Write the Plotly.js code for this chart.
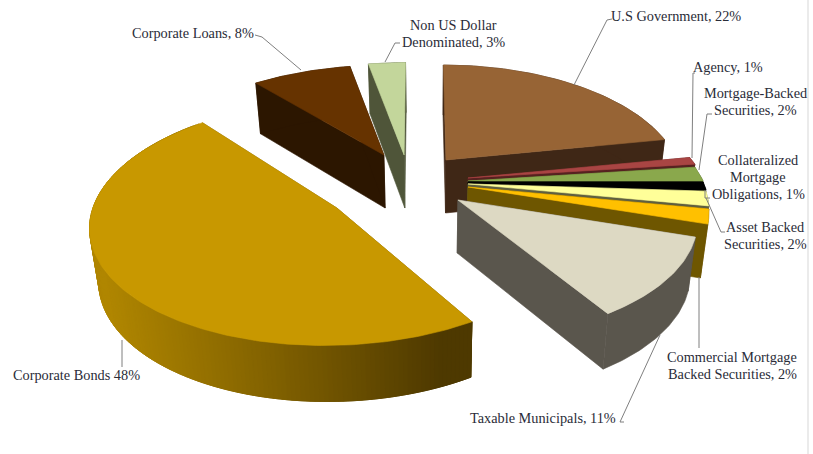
<!DOCTYPE html>
<html>
<head>
<meta charset="utf-8">
<script src="https://cdn.plot.ly/plotly-3.0.1.min.js"></script>
<style>html,body{margin:0;padding:0;background:#fff}#chart{width:813px;height:454px}</style>
</head>
<body>
<div id="chart"></div>
<script>
// Portfolio allocation by sector, percent of total, clockwise from twelve o'clock.
const categories = ["U.S Government", "Agency", "Mortgage-Backed Securities", "Collateralized Mortgage Obligations",
  "Asset Backed Securities", "Commercial Mortgage Backed Securities", "Taxable Municipals",
  "Corporate Bonds", "Corporate Loans", "Non US Dollar Denominated"];
const shares = [22, 1, 2, 1, 2, 2, 11, 48, 8, 3];

const topColors = ["#976435", "#A94543", "#8AA84C", "#000000", "#FFFF99", "#FFC000", "#DDD9C3", "#C89800", "#663300", "#C3D69B"];
const wallColors = ["#3F2716", "#562120", "#465527", "#000000", "#5F5F40", "#6E5600", "#5A564D", "#7F6000", "#2C1600", "#4F5539"];

// How far each slice is pulled from the pie centre, in radius units.
const pullX = [0.204, 0.298, 0.298, 0.298, 0.298, 0.298, 0.255, -0.260, -0.060, 0.026];
const pullY = [-0.239, -0.080, -0.053, -0.044, -0.027, 0.000, 0.115, 0.186, -0.283, -0.283];

// Projection of the tilted pie: each exploded slice has its own foreshortening.
const view = {cx: 398, cy: 187, rx: 235, ry: 113, depth: 53, taper: 0.027};
const sliceRx = [231, 235, 235, 235, 235, 235, 235, 244, 235, 235];
const sliceRy = [113, 113, 113, 113, 113, 113, 113, 121, 107, 110];
const slicePersp = [0.19, 0.19, 0.19, 0.19, 0.19, 0.19, 0.19, 0.12, 0.19, 0.19];
const sliceVanishX = [430, 430, 430, 430, 430, 430, 458, 430, 404, 413];
const vanishDrop = 430;

const bondsIndex = categories.indexOf("Corporate Bonds");
const gradientLeft = [176, 134, 0], gradientRight = [78, 57, 0];

function project(i, ax, ay, angleDeg) {
  const t = angleDeg * Math.PI / 180;
  const u = Math.sin(t), v = -Math.cos(t);
  const f = 1 / (1 - slicePersp[i] * v);
  return {
    x: ax + sliceRx[i] * u * f + (ax - sliceVanishX[i]) * (f - 1),
    y: ay + sliceRy[i] * v * f,
    v: v
  };
}
function dropped(p, v) {
  return {
    x: p.x + (vanishDrop - p.x) * view.taper,
    y: p.y + view.depth + 3 * (v === undefined ? 0 : v)
  };
}
function poly(points, color) {
  return {
    type: "scatter", mode: "lines", hoverinfo: "skip", showlegend: false, fill: "toself",
    fillcolor: color, line: {color: color, width: 0.6},
    x: points.map(p => p.x).concat(points[0].x),
    y: points.map(p => p.y).concat(points[0].y)
  };
}

const traces = [];
let cumulative = 0;
shares.forEach((share, i) => {
  const start = cumulative * 3.6, end = (cumulative + share) * 3.6;
  cumulative += share;
  const apex = {x: view.cx + pullX[i] * view.rx, y: view.cy + pullY[i] * view.ry};
  const arc = [];
  const steps = Math.max(2, Math.ceil(end - start));
  for (let s = 0; s <= steps; s++) arc.push(project(i, apex.x, apex.y, start + (end - start) * s / steps));

  const apexLow = dropped(apex, 0);
  const first = arc[0], last = arc[arc.length - 1];
  traces.push(poly([apex, first, dropped(first, first.v), apexLow], wallColors[i]));
  traces.push(poly([apex, last, dropped(last, last.v), apexLow], wallColors[i]));

  if (i === bondsIndex) {
    // The long outer wall darkens from left to right; bands overlap so no seams show.
    for (let s = 0; s < arc.length - 1; s++) {
      const a = arc[s], b = arc[Math.max(0, s - 3)];
      const mix = Math.min(1, Math.max(0, (a.x - 100) / 330));
      const c = gradientLeft.map((l, k) => Math.round(l + (gradientRight[k] - l) * mix));
      traces.push(poly([a, b, dropped(b, b.v), dropped(a, a.v)], "rgb(" + c.join(",") + ")"));
    }
  } else {
    const low = arc.slice().reverse().map(p => dropped(p, p.v));
    traces.push(poly(arc.concat(low), wallColors[i]));
  }
  traces.push(poly([apex].concat(arc), topColors[i]));
});

// Label text, anchor and leader polyline for each slice.
const labelText = ["U.S Government, 22%", "Agency, 1%", "Mortgage-Backed<br>Securities, 2%",
  "Collateralized<br>Mortgage<br>Obligations, 1%", "Asset Backed<br>Securities, 2%",
  "Commercial Mortgage<br>Backed Securities, 2%", "Taxable Municipals, 11%", "Corporate Bonds 48%",
  "Corporate Loans, 8%", "Non US Dollar<br>Denominated, 3%"];
const labelX = [676, 728, 755, 758, 765, 732, 543, 76, 193, 453];
const labelY = [16, 67, 101, 177, 235, 365, 418, 375, 33, 33];
const lineGap = 17;
const leaderX = [[612,607,574],[695,693,692],[712,707,699],[705,705,710],[725,721,706],[699,699],[624,620,660],[122,122],[255,262,301],[400,395,385]];
const leaderY = [[19,20,85],[73,73,158],[114,114,170],[190,198,198],[232,232,198],[277,348],[422,422,335],[340,367],[35,37,70],[43,43,62]];

leaderX.forEach((xs, i) => traces.push({
  type: "scatter", mode: "lines", hoverinfo: "skip", showlegend: false,
  x: xs, y: leaderY[i], line: {color: "#7F7F7F", width: 1}
}));

const annotations = [];
labelText.forEach((text, i) => {
  const lines = text.split("<br>");
  lines.forEach((line, k) => annotations.push({
    text: line, x: labelX[i], y: labelY[i] + lineGap * (k - (lines.length - 1) / 2),
    xref: "x", yref: "y", showarrow: false, xanchor: "center", yanchor: "middle", align: "center",
    font: {family: "Liberation Serif, serif", size: 14.3, color: "#2A2C38"}
  }));
});

const layout = {
  width: 813, height: 454, margin: {l: 0, r: 0, t: 0, b: 0},
  paper_bgcolor: "#fff", plot_bgcolor: "#fff", showlegend: false,
  xaxis: {range: [0, 813], visible: false, fixedrange: true},
  yaxis: {range: [454, 0], visible: false, fixedrange: true},
  annotations: annotations,
  // Pale frame rule along the right side of the page.
  shapes: [{type: "line", xref: "x", yref: "y", x0: 808, x1: 808, y0: 0, y1: 454, line: {color: "#EBEBEB", width: 2}}]
};
Plotly.newPlot("chart", traces, layout, {displayModeBar: false, staticPlot: true});
</script>
</body>
</html>
